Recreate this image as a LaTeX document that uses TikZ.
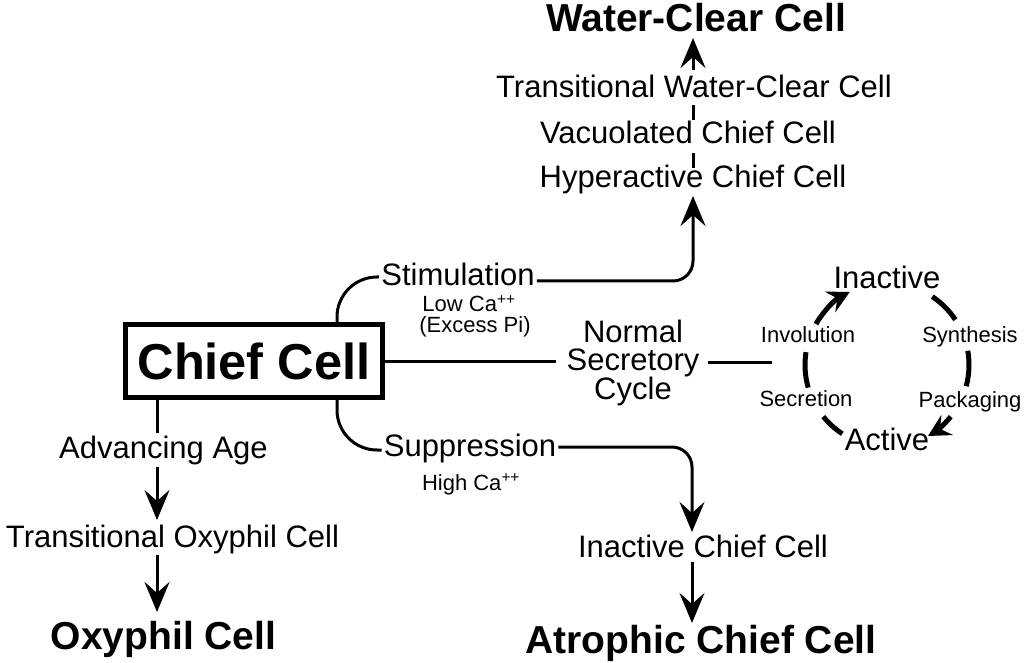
\documentclass[tikz,border=0pt]{standalone}
\usepackage{fontspec}
\setmainfont{Liberation Sans}
\usetikzlibrary{arrows.meta,calc}
\begin{document}
\begin{tikzpicture}[x=1pt,y=-1pt,
  txt/.style={font=\fontsize{31}{34}\selectfont, inner sep=0pt, anchor=base},
  big/.style={font=\fontsize{39}{42}\selectfont\bfseries, inner sep=0pt, anchor=base},
  small/.style={font=\fontsize{22}{24}\selectfont, inner sep=0pt, anchor=base},
  conn/.style={line width=3pt},
  arr/.style={conn, -{Stealth[length=30pt,width=25pt,inset=11pt]}},
  cyc/.style={line width=5pt},
  cycarr/.style={cyc, -{Stealth[length=22pt,width=23pt,inset=8pt]}},
  box/.style={draw, line width=5pt, minimum width=257pt, minimum height=73pt, inner sep=0pt,
    font=\fontsize{50.5}{54}\selectfont\bfseries}]
\path[use as bounding box, fill=white] (0,0) rectangle (1026,663);

% helper coordinates (x positions of vertical runs)
\coordinate (vx) at (693,0);
\coordinate (ix) at (692,0);
\coordinate (lx) at (157,0);
\coordinate (sx) at (337,0);
\coordinate (cycw) at (772,0);
\coordinate (cc) at (887,365);

% nodes
\node[box] (chief) at (254,361) {Chief Cell};
\node[big] (wc) at (696,32) {Water-Clear Cell};
\node[txt] (twc) at (694,98) {Transitional Water-Clear Cell};
\node[txt] (vac) at (688,144) {Vacuolated Chief Cell};
\node[txt] (hyp) at (693,188) {Hyperactive Chief Cell};
\node[txt] (stim) at (458,286) {Stimulation};
\node[small] (lowca) at (469,312) {Low Ca\textsuperscript{++}};
\node[small] (excess) at (475,332) {(Excess Pi)};
\node[txt] (nsc1) at (633,342) {Normal};
\node[txt] (nsc) at (633,370) {Secretory};
\node[txt] (nsc3) at (633,399.5) {Cycle};
\node[txt] (supp) at (470,456) {Suppression};
\node[small] (highca) at (471,490) {High Ca\textsuperscript{++}};
\node[txt] (inact) at (703,557) {Inactive Chief Cell};
\node[big] (atro) at (701,653) {Atrophic Chief Cell};
\node[txt] (adv) at (163.5,458) {Advancing Age};
\node[txt] (toxy) at (172.5,547) {Transitional Oxyphil Cell};
\node[big] (oxy) at (163.5,649) {Oxyphil Cell};

% cycle labels
\node[txt] (cin) at (887,288) {Inactive};
\node[txt] (cact) at (887,450) {Active};
\node[small] (syn) at (970,342) {Synthesis};
\node[small] (pack) at (970,407) {Packaging};
\node[small] (inv) at (808,342) {Involution};
\node[small] (sec) at (806,406) {Secretion};

% stimulation branch
\draw[conn, rounded corners=40pt] (chief.north -| sx) |- ($(stim.base west)+(-2,-9)$);
\draw[arr, rounded corners=20pt] ($(stim.base east)+(2,-5)$) -| ($(hyp.base -| vx)+(0,8)$);
\draw[conn] ($(vac.base -| vx)+(0,9)$) -- ($(hyp.base -| vx)+(0,-20)$);
\draw[conn] ($(twc.base -| vx)+(0,7)$) -- ($(vac.base -| vx)+(0,-24)$);
\draw[arr] ($(twc.base -| vx)+(0,-28)$) -- ($(wc.base -| vx)+(0,6)$);

% normal secretory cycle
\draw[conn] (chief.east) -- ($(chief.east -| nsc.west)+(-10,0)$);
\draw[conn] ($(nsc.base east)+(8,-8)$) -- ($(nsc.base east -| cycw)+(0,-8)$);

% suppression branch
\draw[conn, rounded corners=40pt] (chief.south -| sx) |- ($(supp.base west)+(-2,-6)$);
\draw[arr, rounded corners=20pt] ($(supp.base east)+(2,-9)$) -| ($(inact.base -| ix)+(0,-25)$);
\draw[arr] ($(inact.base -| ix)+(0,5)$) -- ($(atro.base -| ix)+(0,-30)$);

% advancing age branch
\draw[conn] (chief.south -| lx) -- ($(adv.base -| lx)+(0,-25)$);
\draw[arr] ($(adv.base -| lx)+(0,9)$) -- ($(toxy.base -| lx)+(0,-27)$);
\draw[arr] ($(toxy.base -| lx)+(0,8)$) -- ($(oxy.base -| lx)+(0,-37)$);

% cycle arcs (angles measured in the flipped frame)
\draw[cyc] ([shift={(-56.5:82)}]cc) arc[start angle=-56.5, end angle=-33.5, radius=82];
\draw[cyc] ([shift={(-10:82)}]cc) arc[start angle=-10, end angle=15, radius=82];
\draw[cycarr] ([shift={(39:82)}]cc) arc[start angle=39, end angle=60, radius=82];
\draw[cyc] ([shift={(123:82)}]cc) arc[start angle=123, end angle=141, radius=82];
\draw[cyc] ([shift={(164:82)}]cc) arc[start angle=164, end angle=189, radius=82];
\draw[cycarr] ([shift={(-150:82)}]cc) arc[start angle=-150, end angle=-117, radius=82];
\end{tikzpicture}
\end{document}
